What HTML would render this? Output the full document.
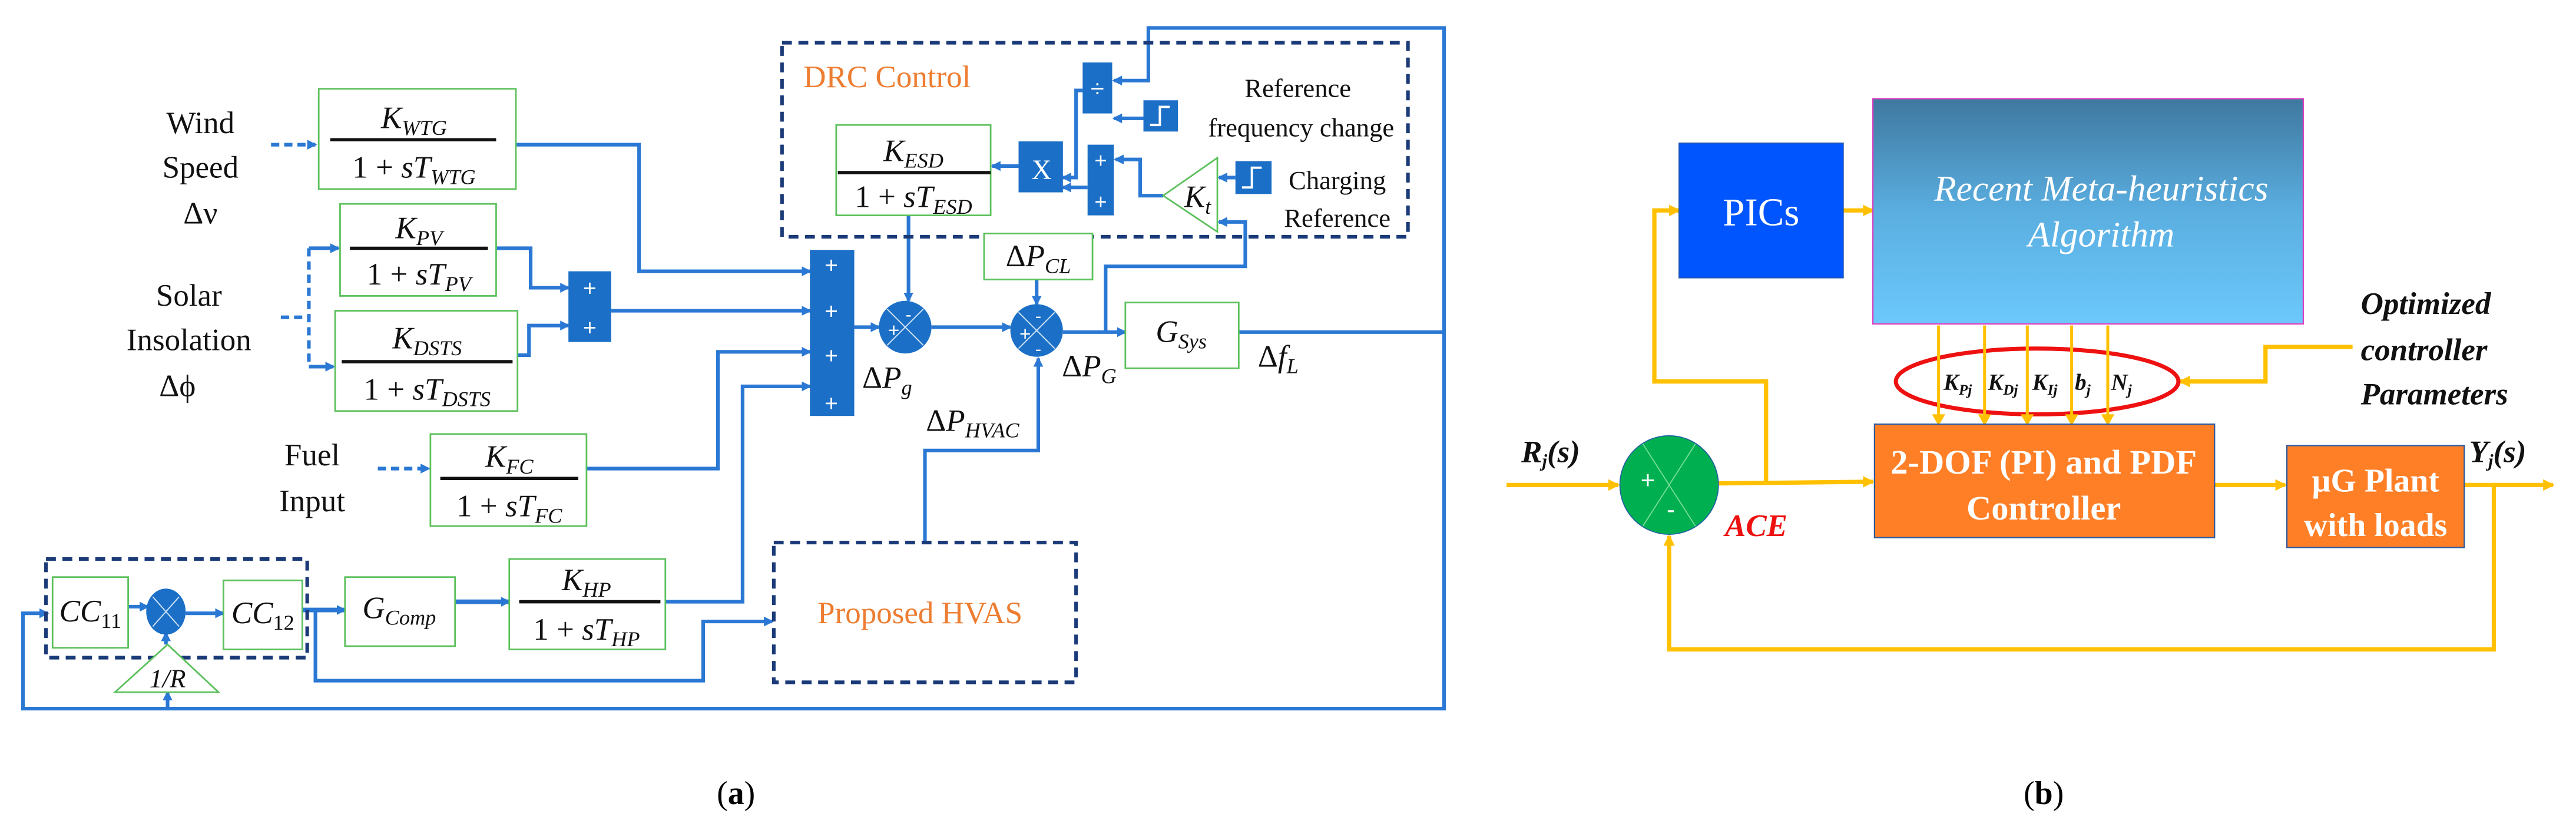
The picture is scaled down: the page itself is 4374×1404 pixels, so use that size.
<!DOCTYPE html>
<html><head><meta charset="utf-8"><style>html,body{margin:0;padding:0;background:#fff}svg{display:block}</style></head><body>
<svg width="4374" height="1404" viewBox="0 0 1568 503" preserveAspectRatio="none" xmlns="http://www.w3.org/2000/svg" font-family="Liberation Serif, serif">
<defs>
<marker id="a" markerWidth="6" markerHeight="6" refX="5" refY="3" orient="auto" markerUnits="userSpaceOnUse"><path d="M0,0 L6,3 L0,6 z" fill="#2a78d4"/></marker>
<marker id="y" markerWidth="7" markerHeight="7" refX="6" refY="3.5" orient="auto" markerUnits="userSpaceOnUse"><path d="M0,0 L7,3.5 L0,7 z" fill="#ffc000"/></marker>
<linearGradient id="g" x1="0" y1="0" x2="0" y2="1"><stop offset="0" stop-color="#3f78a0"/><stop offset="0.5" stop-color="#5aaee0"/><stop offset="1" stop-color="#6cc8fb"/></linearGradient>
</defs>
<rect width="1568" height="503" fill="#fff"/>
<g fill="none" stroke="#2a78d4" stroke-width="2.2">
<path d="M165,88 H192" stroke-dasharray="5,3" marker-end="url(#a)"/>
<path d="M171,193 H188 M188,151 V223" stroke-dasharray="5,3"/>
<path d="M188,151 H206" marker-end="url(#a)"/>
<path d="M188,223 H203" marker-end="url(#a)"/>
<path d="M230,285 H261" stroke-dasharray="5,3" marker-end="url(#a)"/>
<path d="M302,151 H323 V175 H346" marker-end="url(#a)"/>
<path d="M315,216 H322 V198 H346" marker-end="url(#a)"/>
<path d="M372,189 H493" marker-end="url(#a)"/>
<path d="M314,88 H389 V165 H493" marker-end="url(#a)"/>
<path d="M357,285 H437 V214 H493" marker-end="url(#a)"/>
<path d="M405,366 H452 V235 H493" marker-end="url(#a)"/>
<path d="M520,199 H535" marker-end="url(#a)"/>
<path d="M567,199 H615" marker-end="url(#a)"/>
<path d="M553,131 V183" marker-end="url(#a)"/>
<path d="M631,170 V185" marker-end="url(#a)"/>
<path d="M563,330 V274 H632 V218" marker-end="url(#a)"/>
<path d="M647,202 H685" marker-end="url(#a)"/>
<path d="M754,202 H879 V17 H699 V49 H678" marker-end="url(#a)"/>
<path d="M879,202 V431 H14 V373 H29" marker-end="url(#a)"/>
<path d="M102,431 V421" marker-end="url(#a)"/>
<path d="M673,202 V162 H758 V135 H742" marker-end="url(#a)"/>
<path d="M696,72 H678" marker-end="url(#a)"/>
<path d="M659,55 H655 V108 H647" marker-end="url(#a)"/>
<path d="M662,114 H647" marker-end="url(#a)"/>
<path d="M620,101 H604" marker-end="url(#a)"/>
<path d="M708,119 H694 V97 H679" marker-end="url(#a)"/>
<path d="M752,108 H742" marker-end="url(#a)"/>
<path d="M78,369 H90" marker-end="url(#a)"/>
<path d="M113,373 H136" marker-end="url(#a)"/>
<path d="M101,392 V385" marker-end="url(#a)"/>
<path d="M184,371 H210" marker-end="url(#a)" stroke-width="2.8"/>
<path d="M277,366 H310" marker-end="url(#a)" stroke-width="2.8"/>
<path d="M192,371 V414 H428 V378 H470" marker-end="url(#a)"/>
</g>
<g fill="none" stroke="#1a3a78" stroke-width="2.2" stroke-dasharray="6,4">
<rect x="476" y="26" width="381" height="118"/>
<rect x="471" y="330" width="184" height="85"/>
<rect x="28" y="340" width="159" height="60"/>
</g>
<g fill="#fff" stroke="#5cc05c" stroke-width="1">
<rect x="194" y="54" width="120" height="61"/>
<rect x="207" y="124" width="95" height="56"/>
<rect x="204" y="189" width="111" height="61"/>
<rect x="262" y="264" width="95" height="56"/>
<rect x="509" y="76" width="94" height="55"/>
<rect x="599" y="142" width="66" height="28"/>
<rect x="685" y="184" width="69" height="40"/>
<rect x="32" y="351" width="46" height="43"/>
<rect x="136" y="353" width="48" height="42"/>
<rect x="210" y="351" width="67" height="42"/>
<rect x="310" y="340" width="95" height="55"/>
<path d="M708,119 L741,96 L741,141 Z"/>
<path d="M70,421 L102,392 L133,421 Z"/>
</g>
<g stroke="#111" stroke-width="2">
<path d="M201,85 H302 M213,151 H297 M208,220 H312 M268,291 H352 M510,105 H603 M316,366 H402"/>
</g>
<g fill="#1b6fc6">
<rect x="493" y="152" width="27" height="101"/>
<rect x="346" y="165" width="26" height="43"/>
<rect x="659" y="38" width="18" height="31"/>
<rect x="696" y="61" width="21" height="19"/>
<rect x="752" y="98" width="22" height="20"/>
<rect x="620" y="86" width="27" height="31"/>
<rect x="662" y="88" width="16" height="43"/>
<circle cx="551" cy="199" r="16"/>
<circle cx="631" cy="201" r="16"/>
<ellipse cx="101" cy="372" rx="12" ry="14"/>
</g>
<g stroke="#cfe3f7" stroke-width="0.7" fill="none">
<path d="M540,188 L562,210 M562,188 L540,210 M620,190 L642,212 M642,190 L620,212 M93,363 L109,381 M109,363 L93,381"/>
<path d="M700,76 H706 V65 H712 M756,114 H762 V102 H768" stroke="#fff" stroke-width="1.4"/>
</g>
<g fill="#fff" font-family="Liberation Sans, sans-serif" text-anchor="middle">
<text x="506" y="166" font-size="14">+</text><text x="506" y="194" font-size="14">+</text><text x="506" y="221" font-size="14">+</text><text x="506" y="250" font-size="14">+</text>
<text x="359" y="180" font-size="14">+</text><text x="359" y="204" font-size="14">+</text>
<text x="670" y="102" font-size="13">+</text><text x="670" y="127" font-size="13">+</text>
<text x="668" y="59" font-size="15">÷</text>
<text x="634" y="109" font-size="17" font-family="Liberation Serif, serif">X</text>
<text x="544" y="205" font-size="12">+</text><text x="553" y="195" font-size="11">-</text>
<text x="624" y="207" font-size="12">+</text><text x="632" y="196" font-size="11">-</text><text x="632" y="216" font-size="11">-</text>
</g>
<g fill="#111" font-size="19" text-anchor="middle">
<text x="122" y="81">Wind</text><text x="122" y="108">Speed</text><text x="122" y="136">Δν</text>
<text x="115" y="186">Solar</text><text x="115" y="213">Insolation</text><text x="108" y="241">Δϕ</text>
<text x="190" y="283">Fuel</text><text x="190" y="311">Input</text>
<text x="790" y="59" font-size="16">Reference</text><text x="792" y="83" font-size="16">frequency change</text>
<text x="814" y="115" font-size="16">Charging</text><text x="814" y="138" font-size="16">Reference</text>
</g>
<g fill="#111" font-size="19" text-anchor="middle" font-style="italic">
<text x="252" y="78">K<tspan font-size="13" dy="4">WTG</tspan></text>
<text x="252" y="108"><tspan font-style="normal">1 + </tspan>sT<tspan font-size="13" dy="4">WTG</tspan></text>
<text x="255" y="145">K<tspan font-size="13" dy="4">PV</tspan></text>
<text x="255" y="173"><tspan font-style="normal">1 + </tspan>sT<tspan font-size="13" dy="4">PV</tspan></text>
<text x="260" y="212">K<tspan font-size="13" dy="4">DSTS</tspan></text>
<text x="260" y="243"><tspan font-style="normal">1 + </tspan>sT<tspan font-size="13" dy="4">DSTS</tspan></text>
<text x="310" y="284">K<tspan font-size="13" dy="4">FC</tspan></text>
<text x="310" y="314"><tspan font-style="normal">1 + </tspan>sT<tspan font-size="13" dy="4">FC</tspan></text>
<text x="556" y="98">K<tspan font-size="13" dy="4">ESD</tspan></text>
<text x="556" y="126"><tspan font-style="normal">1 + </tspan>sT<tspan font-size="13" dy="4">ESD</tspan></text>
<text x="357" y="359">K<tspan font-size="13" dy="4">HP</tspan></text>
<text x="357" y="389"><tspan font-style="normal">1 + </tspan>sT<tspan font-size="13" dy="4">HP</tspan></text>
<text x="632" y="162"><tspan font-style="normal">Δ</tspan>P<tspan font-size="13" dy="4">CL</tspan></text>
<text x="719" y="208">G<tspan font-size="13" dy="4">Sys</tspan></text>
<text x="55" y="378">CC<tspan font-size="13" font-style="normal" dy="4">11</tspan></text>
<text x="160" y="379">CC<tspan font-size="13" font-style="normal" dy="4">12</tspan></text>
<text x="243" y="376">G<tspan font-size="13" dy="4">Comp</tspan></text>
<text x="102" y="418" font-size="16">1/R</text>
<text x="729" y="126">K<tspan font-size="13" dy="4">t</tspan></text>
<text x="540" y="236"><tspan font-style="normal">Δ</tspan>P<tspan font-size="13" dy="4">g</tspan></text>
<text x="663" y="229"><tspan font-style="normal">Δ</tspan>P<tspan font-size="13" dy="4">G</tspan></text>
<text x="592" y="262"><tspan font-style="normal">Δ</tspan>P<tspan font-size="13" dy="4">HVAC</tspan></text>
<text x="778" y="223"><tspan font-style="normal">Δ</tspan>f<tspan font-size="13" dy="4">L</tspan></text>
</g>
<text x="540" y="53" font-size="19" fill="#ed7d31" text-anchor="middle">DRC Control</text>
<text x="560" y="379" font-size="19" fill="#ed7d31" text-anchor="middle">Proposed HVAS</text>
<text x="448" y="489" font-size="20" text-anchor="middle">(<tspan font-weight="bold">a</tspan>)</text>
<text x="1244" y="489" font-size="20" text-anchor="middle">(<tspan font-weight="bold">b</tspan>)</text>

<g fill="none" stroke="#ffc000" stroke-width="2.6">
<path d="M917,295 H985" marker-end="url(#y)"/>
<path d="M1046,294 L1140,293" marker-end="url(#y)"/>
<path d="M1075,294 V232 H1007 V128 H1022" marker-end="url(#y)"/>
<path d="M1122,128 H1140" marker-end="url(#y)"/>
<path d="M1348,295 H1391" marker-end="url(#y)"/>
<path d="M1500,295 H1554" marker-end="url(#y)"/>
<path d="M1518,295 V395 H1016 V326" marker-end="url(#y)"/>
<path d="M1432,211 H1379 V232 H1327" marker-end="url(#y)"/>
</g>
<rect x="1022" y="87" width="100" height="82" fill="#0055ff" stroke="#2255aa" stroke-width="0.6"/>
<rect x="1140" y="60" width="262" height="137" fill="url(#g)" stroke="#e040c0" stroke-width="0.8"/>
<ellipse cx="1240" cy="232" rx="86" ry="20" fill="none" stroke="#ee1111" stroke-width="2.5"/>
<g stroke="#ffc000" stroke-width="1.8">
<path d="M1180,198 V256 M1208,198 V256 M1234,198 V256 M1261,198 V256 M1283,198 V256"/>
</g>
<g fill="#ffc000"><path d="M1176,252 L1180,259 L1184,252Z M1204,252 L1208,259 L1212,252Z M1230,252 L1234,259 L1238,252Z M1257,252 L1261,259 L1265,252Z M1279,252 L1283,259 L1287,252Z"/></g>
<rect x="1141" y="258" width="207" height="69" fill="#ff7f27" stroke="#2a5aa0" stroke-width="0.8"/>
<rect x="1392" y="271" width="108" height="62" fill="#ff7f27" stroke="#2a5aa0" stroke-width="0.8"/>
<circle cx="1016" cy="295" r="30" fill="#00b050" stroke="#2060a0" stroke-width="0.6"/>
<path d="M1000,270 L1032,320 M1032,270 L1000,320" stroke="#7fe0a0" stroke-width="0.6"/>
<g fill="#fff" text-anchor="middle">
<text x="1003" y="297" font-size="15" font-family="Liberation Sans, sans-serif">+</text>
<text x="1017" y="315" font-size="15" font-family="Liberation Sans, sans-serif">-</text>
<text x="1072" y="137" font-size="24">PICs</text>
<text x="1279" y="122" font-size="22" font-style="italic">Recent Meta-heuristics</text>
<text x="1279" y="150" font-size="22" font-style="italic">Algorithm</text>
<text x="1244" y="288" font-size="21" font-weight="bold">2-DOF (PI) and PDF</text>
<text x="1244" y="316" font-size="21" font-weight="bold">Controller</text>
<text x="1446" y="299" font-size="20" font-weight="bold">µG Plant</text>
<text x="1446" y="326" font-size="20" font-weight="bold">with loads</text>
</g>
<g fill="#111" font-style="italic" font-weight="bold">
<text x="1183" y="237" font-size="14">K<tspan font-size="9" dy="3">Pj</tspan></text>
<text x="1210" y="237" font-size="14">K<tspan font-size="9" dy="3">Dj</tspan></text>
<text x="1237" y="237" font-size="14">K<tspan font-size="9" dy="3">Ij</tspan></text>
<text x="1263" y="237" font-size="14">b<tspan font-size="9" dy="3">j</tspan></text>
<text x="1285" y="237" font-size="14">N<tspan font-size="9" dy="3">j</tspan></text>
<text x="1437" y="191" font-size="19">Optimized</text>
<text x="1437" y="219" font-size="19">controller</text>
<text x="1437" y="246" font-size="19">Parameters</text>
<text x="926" y="281" font-size="19">R<tspan font-size="11" dy="3">j</tspan><tspan dy="-3">(s)</tspan></text>
<text x="1503" y="281" font-size="19">Y<tspan font-size="11" dy="3">j</tspan><tspan dy="-3">(s)</tspan></text>
</g>
<text x="1069" y="326" font-size="19" font-style="italic" font-weight="bold" fill="#ee1111" text-anchor="middle">ACE</text>
</svg>
</body></html>
